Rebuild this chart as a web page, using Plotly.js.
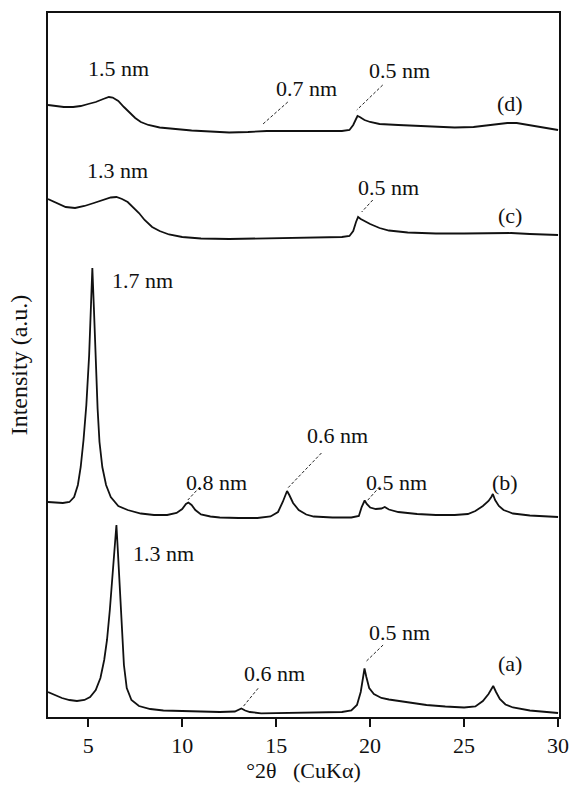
<!DOCTYPE html>
<html>
<head>
<meta charset="utf-8">
<script src="https://cdn.plot.ly/plotly-3.0.1.min.js"></script>
<style>
html,body{margin:0;padding:0;background:#fff;font-family:'Liberation Serif',serif;}
#chart svg text{font-family:'Liberation Serif','Times New Roman',serif !important;}
</style>
</head>
<body>
<div id="chart" style="width:571px;height:786px;"></div>
<script>
// ---- data (2θ in degrees, intensity in arbitrary units incl. stacking offset) ----
const twoThetaA = [2.86,3.2,3.6,4.0,4.4,4.8,5.1,5.4,5.65,5.85,6.0,6.15,6.3,6.42,6.5,6.58,6.75,6.9,7.05,7.3,7.7,8.3,9.0,10.0,11.0,12.0,12.8,13.0,13.15,13.35,13.6,14.2,15.5,17.0,18.5,19.0,19.3,19.5,19.62,19.7,19.8,19.95,20.2,20.6,21.0,22.0,23.0,24.0,25.0,25.6,26.0,26.3,26.45,26.55,26.7,26.9,27.2,27.6,28.5,29.3,30.0];
const intensityA = [25,22,19,17,16,17,20,27,39,57,77,107,147,180,192,165,97,52,29,17,11,8,6.5,6,5.5,5,5.5,7,8.5,6.5,5,3.7,4,4.5,5,6.5,12,25,40,48.5,40,29,23,19,17.5,14.5,12,10.5,9.5,10.5,16,23,28,31,25,18,12.5,9.5,6.5,5,4];

const twoThetaB = [2.86,3.3,3.65,4.0,4.25,4.45,4.6,4.75,4.9,5.05,5.15,5.22,5.3,5.4,5.5,5.6,5.75,5.95,6.2,6.6,7.1,7.8,8.5,9.2,9.7,10.0,10.2,10.33,10.5,10.7,11.0,11.5,12.0,13.0,14.0,14.7,15.1,15.35,15.5,15.58,15.7,15.9,16.2,16.6,17.0,18.0,19.0,19.4,19.55,19.65,19.71,19.82,20.0,20.3,20.6,20.78,21.0,21.5,22.5,23.5,24.5,25.2,25.6,26.0,26.3,26.45,26.53,26.65,26.85,27.1,27.6,28.5,29.3,30.0];
const intensityB = [215,214.5,214,215,220,232,250,277,312,362,407,449,410,355,308,275,250,232,220,211,207,203.5,202,202,204,208,213,214.5,212,207,202.5,200.5,199.5,199,199,200.5,205,215,223,226,222,214,207,202.5,200.5,199.5,199.5,201,210,215,216.5,213,209.5,208,208.5,210,207.5,205,203,202,202,203,206,211,216,220,223,217,211,207,203.5,201.5,200.5,200];

const twoThetaC = [2.86,3.3,3.8,4.3,4.8,5.3,5.8,6.2,6.5,6.8,7.1,7.4,7.7,8.0,8.4,8.8,9.3,10.0,11.0,12.5,14.0,15.5,17.0,18.5,18.9,19.1,19.25,19.36,19.5,19.7,20.0,20.5,21.0,22.0,23.5,25.0,26.5,27.5,28.5,30.0];
const intensityC = [518,514,510,509,511,514,517,519.5,520,518,515,510,504,497,490,486,482.5,480,478.5,478,478.5,479,479.5,480,481,486,495,500,498,496,493,489,486.5,484.5,483.5,483.5,484,484,483,482];

const twoThetaD = [2.86,3.3,3.7,4.2,4.6,5.0,5.4,5.8,6.1,6.3,6.6,6.9,7.2,7.5,7.8,8.2,8.8,9.5,10.5,11.5,12.5,13.5,14.5,15.5,16.5,17.5,18.5,18.9,19.1,19.25,19.33,19.45,19.7,20.0,20.5,21.5,22.5,23.5,24.5,25.5,26.5,27.3,27.8,28.5,29.3,30.0];
const intensityD = [612,611,610,610,611,613,615,618,620,619.5,616,610,604,599,595,592,589.5,588,586.5,585.5,584.5,585,586,586,586,586,586,587,592,598,601,600,597,595,593,592,591,590,589.5,590,592,594,594,592,589,587];

const xTicks = [5,10,15,20,25,30];

// peak labels: text, 2θ, intensity
const labelText = ["1.5 nm","0.7 nm","0.5 nm","(d)","1.3 nm","0.5 nm","(c)","1.7 nm","0.8 nm","0.6 nm","0.5 nm","(b)","1.3 nm","0.6 nm","0.5 nm","(a)"];
const labelX = [6.63,16.63,21.57,27.42,6.58,20.99,27.42,7.91,11.83,18.28,21.40,27.16,9.03,14.93,21.57,27.42];
const labelY = [649,629,647,614,547,530,502,437,235,282,235,235,164,44,85,54];

// dashed leader lines: from (x0,y0) to (x1,y1)
const leaderX0 = [15.62,20.67,20.14,10.94,17.41,20.51,14.04,20.69];
const leaderY0 = [615,632,517,230,264,230.3,28.7,72];
const leaderX1 = [14.24,19.29,19.55,10.30,15.62,19.80,13.24,19.77];
const leaderY1 = [592,607,505,217,229,215.3,10.3,55.3];

const FONT = "Liberation Serif";

const series = [[twoThetaA,intensityA,"(a)"],[twoThetaB,intensityB,"(b)"],[twoThetaC,intensityC,"(c)"],[twoThetaD,intensityD,"(d)"]];
const traces = series.map(s => ({
  x: s[0], y: s[1], name: s[2], type: "scatter", mode: "lines",
  line: {color: "#111", width: 1.8},
  hoverinfo: "skip"
}));

const annotations = labelText.map((t,i) => ({
  x: labelX[i], y: labelY[i], xref: "x", yref: "y", text: t, showarrow: false,
  font: {family: FONT, size: 22, color: "#111"}, xanchor: "center", yanchor: "middle"
}));

const shapes = leaderX0.map((x0,i) => ({
  type: "line", xref: "x", yref: "y", x0: x0, y0: leaderY0[i], x1: leaderX1[i], y1: leaderY1[i],
  line: {color: "#222", width: 1, dash: "3px,2px"}
}));

const layout = {
  width: 571, height: 786,
  margin: {l: 48, r: 12, t: 13, b: 69},
  paper_bgcolor: "#fff", plot_bgcolor: "#fff",
  showlegend: false,
  font: {family: FONT, size: 22, color: "#111"},
  xaxis: {
    range: [2.86, 30.05], tickvals: xTicks, ticktext: xTicks.map(String),
    ticks: "outside", ticklen: 8, tickwidth: 1.5, tickcolor: "#111",
    showline: true, mirror: true, linecolor: "#111", linewidth: 1.6,
    showgrid: false, zeroline: false,
    tickfont: {family: FONT, size: 22, color: "#111"},
    title: {text: "°2θ\u00a0\u00a0\u00a0(CuKα)", font: {family: FONT, size: 22, color: "#111"}, standoff: 4}
  },
  yaxis: {
    range: [0, 704], showticklabels: false, ticks: "",
    showline: true, mirror: true, linecolor: "#111", linewidth: 1.6,
    showgrid: false, zeroline: false,
    title: {text: "Intensity (a.u.)", font: {family: FONT, size: 24, color: "#111"}, standoff: 12}
  },
  annotations: annotations,
  shapes: shapes
};

function draw() {
  Plotly.newPlot("chart", traces, layout, {displayModeBar: false, staticPlot: true});
}
if (document.fonts && document.fonts.load) {
  document.fonts.load("22px 'Liberation Serif'").then(draw, draw);
} else {
  draw();
}
</script>
</body>
</html>
